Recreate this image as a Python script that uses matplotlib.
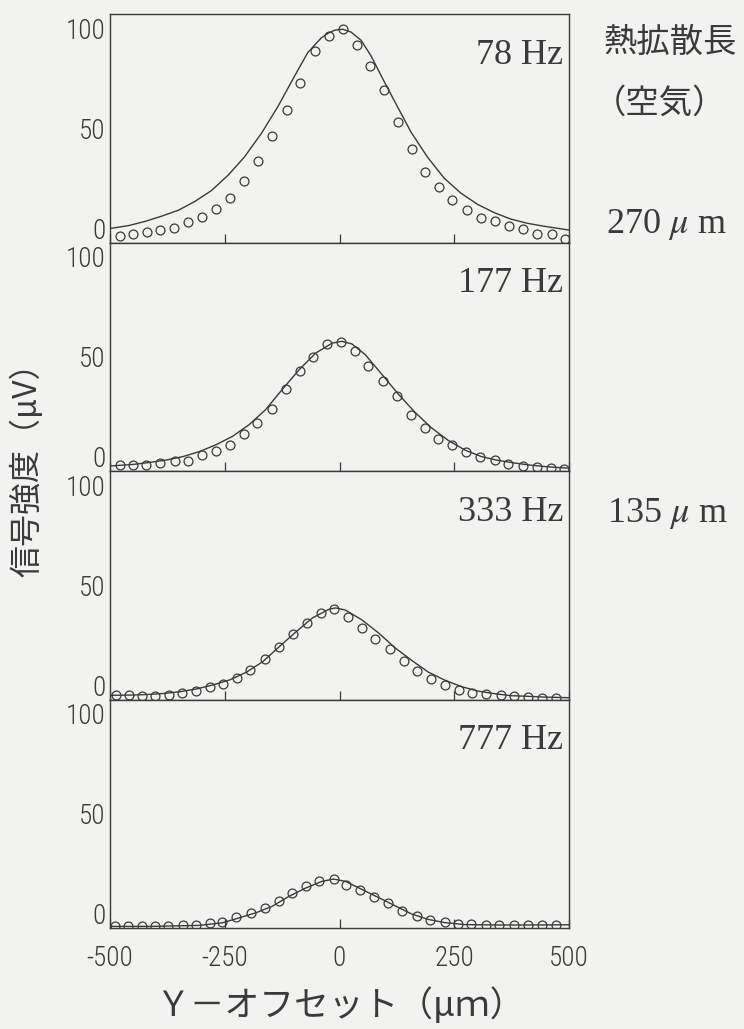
import matplotlib
matplotlib.use("Agg")
import matplotlib.pyplot as plt
import matplotlib.font_manager as fm

# ---- data: Y offset (um) vs signal (uV), measured points and fitted curve ----
freq_labels = ["78 Hz", "177 Hz", "333 Hz", "777 Hz"]

p78_x = [-478, -449, -420, -390, -360, -330, -299, -268, -238, -207, -178, -146, -115, -85, -54, -23,
         7, 38, 67, 98, 128, 158, 187, 217, 246, 278, 308, 339, 370, 400, 431, 462, 491]
p78_y = [-3.6, -2.8, -1.8, -0.9, 0.1, 3.0, 5.8, 9.9, 15.4, 23.5, 33.6, 46.2, 59.3, 72.4, 88.3, 96.2,
         99.6, 91.4, 81.1, 69.0, 53.2, 39.6, 28.4, 20.6, 14.4, 9.2, 5.3, 3.8, 1.0, -0.3, -2.6, -2.7, -5.3]
f78_x = [-500, -460, -424, -388, -351, -315, -279, -243, -207, -170, -134, -98, -69, -40, -25, -11, 7,
         25, 47, 69, 98, 128, 156, 192, 228, 264, 301, 337, 373, 409, 446, 500]
f78_y = [0.0, 1.4, 3.5, 6.1, 9.1, 13.5, 18.9, 26.5, 35.7, 47.5, 60.9, 76.0, 87.8, 95.0, 97.4, 98.9, 99.4,
         98.0, 93.9, 86.0, 73.0, 60.0, 48.0, 35.5, 25.1, 17.7, 12.0, 7.9, 4.7, 2.6, 1.1, -0.8]

p177_x = [-478, -449, -421, -390, -359, -330, -299, -269, -239, -209, -179, -148, -117, -87, -57, -27,
          3, 33, 63, 94, 125, 155, 186, 215, 245, 276, 307, 338, 368, 399, 430, 460, 489]
p177_y = [-4.1, -4.1, -4.0, -3.2, -1.9, -1.9, 0.8, 3.1, 6.1, 11.5, 16.9, 24.1, 33.9, 43.0, 49.9, 56.3,
          57.4, 53.1, 45.3, 37.7, 30.2, 21.0, 14.6, 9.2, 6.0, 2.7, 0.2, -1.7, -3.4, -4.3, -4.9, -5.4, -5.8]
f177_x = [-500, -449, -413, -377, -341, -305, -269, -233, -197, -161, -125, -88, -52, -16, 5,
          27, 56, 92, 128, 164, 200, 236, 273, 309, 345, 381, 417, 453, 500]
f177_y = [-4.5, -3.7, -2.7, -1.5, 0.2, 2.7, 6.1, 10.3, 16.1, 23.6, 33.6, 43.5, 51.8, 56.8, 57.7,
          56.4, 51.1, 41.3, 31.4, 22.4, 14.6, 8.4, 3.5, 0.2, -1.7, -3.0, -4.1, -4.9, -5.6]

p333_x = [-488, -459, -430, -401, -372, -343, -313, -282, -253, -224, -194, -163, -132, -102, -71, -41,
          -12, 18, 48, 78, 109, 140, 169, 199, 230, 260, 289, 320, 351, 381, 410, 442, 471]
p333_y = [-4.9, -4.9, -5.1, -5.3, -4.7, -3.9, -2.7, -1.0, 0.8, 3.6, 7.8, 13.2, 19.3, 25.9, 31.4, 36.3,
          38.0, 34.3, 28.6, 23.4, 18.0, 12.3, 7.4, 3.4, 0.1, -2.3, -3.6, -4.2, -5.0, -5.4, -5.7, -6.2, -6.1]
f333_x = [-500, -455, -419, -383, -347, -311, -275, -239, -203, -167, -131, -95, -59, -23, -8,
          13, 49, 85, 121, 158, 194, 230, 266, 302, 338, 374, 410, 446, 500]
f333_y = [-4.9, -4.8, -4.5, -4.0, -3.1, -1.7, 0.3, 2.8, 6.6, 11.9, 19.4, 26.7, 33.7, 38.0, 38.7,
          37.6, 32.7, 26.2, 18.8, 12.4, 6.6, 2.6, -0.6, -2.8, -4.1, -5.1, -5.4, -5.8, -6.1]

p777_x = [-489, -460, -431, -403, -374, -341, -312, -283, -255, -226, -193, -163, -132, -103, -73, -44,
          -13, 14, 45, 76, 106, 137, 168, 197, 229, 258, 287, 319, 348, 381, 410, 442, 471]
p777_y = [-6.2, -6.2, -6.1, -6.1, -6.1, -5.6, -5.6, -4.7, -4.1, -1.4, 0.3, 3.1, 6.4, 10.5, 14.1, 16.3,
          17.4, 14.7, 11.9, 8.7, 5.4, 1.6, -1.1, -3.2, -4.0, -4.8, -5.1, -5.6, -5.5, -5.5, -5.5, -5.5, -5.4]
f777_x = [-500, -413, -305, -255, -218, -182, -146, -110, -74, -38, -13, 13, 49, 85, 121, 157,
          193, 229, 273, 345, 417, 500]
f777_y = [-6.2, -6.2, -5.7, -4.4, -1.9, 0.6, 3.9, 8.8, 12.9, 16.3, 17.4, 16.3, 12.2, 8.2, 4.1, 0.0,
          -2.7, -4.3, -5.3, -5.5, -5.5, -5.4]

points = [(p78_x, p78_y), (p177_x, p177_y), (p333_x, p333_y), (p777_x, p777_y)]
fits = [(f78_x, f78_y), (f177_x, f177_y), (f333_x, f333_y), (f777_x, f777_y)]

x_ticks = [-500, -250, 0, 250, 500]
x_tick_labels = ["-500", "-250", "0", "250", "500"]
y_ticks = [0, 50, 100]
y_tick_labels = ["0", "50", "100"]

# ---- fonts ----
available = {f.name for f in fm.fontManager.ttflist}


def pick(*names):
    for n in names:
        if n in available:
            return n
    return "DejaVu Sans"


NUM_FONT = pick("Roboto Condensed", "Roboto", "DejaVu Sans")
SERIF = pick("Liberation Serif", "DejaVu Serif")
CJK = ["Noto Sans CJK JP", "DejaVu Sans"]
plt.rcParams["mathtext.fontset"] = "stix"

INK = "#3a3a3a"
PAPER = "#f2f2f0"

fig = plt.figure(figsize=(7.44, 10.29), dpi=100, facecolor=PAPER)

left = 110 / 744
width = (569 - 110) / 744
bottom0 = 1 - 928 / 1029
h = (928 - 14) / 1029 / 4

for i in range(4):
    ax = fig.add_axes([left, bottom0 + (3 - i) * h, width, h])
    ax.set_facecolor(PAPER)
    px, py = points[i]
    fx, fy = fits[i]
    ax.plot(fx, fy, color=INK, lw=1.0, zorder=2)
    ax.plot(px, py, ls="none", marker="o", ms=6.4, mfc="none", mec=INK, mew=0.9, zorder=3)
    ax.set_xlim(-500, 500)
    ax.set_ylim(-7, 107)
    for s in ax.spines.values():
        s.set_color(INK)
        s.set_linewidth(1.0)

    ax.set_xticks(x_ticks)
    ax.set_xticklabels(x_tick_labels, fontfamily=NUM_FONT, fontweight="light",
                       fontsize=19.5, color=INK)
    ax.tick_params(axis="x", direction="in", length=6.5, width=0.9, color=INK,
                   pad=12, top=False, labelbottom=(i == 3))

    ax.set_yticks(y_ticks)
    ax.set_yticklabels(y_tick_labels, fontfamily=NUM_FONT, fontweight="light",
                       fontsize=19.5, color=INK)
    ax.set_yticks([50], minor=True)
    ax.tick_params(axis="y", which="major", length=0, pad=3)
    ax.tick_params(axis="y", which="minor", direction="in", length=6, width=0.9,
                   color=INK, labelleft=False)

    ax.text(0.987, 0.782, freq_labels[i], transform=ax.transAxes, ha="right",
            va="baseline", fontfamily=SERIF, fontsize=26, color=INK)

# axis titles
fig.text(0.036, 1 - 462 / 1029, "信号強度（μV）", rotation=90, ha="center", va="center",
         family=CJK, fontsize=23, color=INK)
fig.text(340 / 744, 1 - 1006 / 1029, "Ｙ－オフセット（μｍ）", ha="center", va="center",
         family=CJK, fontsize=25, color=INK)

# thermal diffusion length annotations on the right
fig.text(670 / 744, 1 - 42 / 1029, "熱拡散長", ha="center", va="center",
         family=CJK, fontsize=24, color=INK)
fig.text(660 / 744, 1 - 103 / 1029, "（空気）", ha="center", va="center",
         family=CJK, fontsize=24, color=INK)
fig.text(666 / 744, 1 - 233 / 1029, "270 $\\mu$ m", ha="center", va="baseline",
         family=SERIF, fontsize=26, color=INK)
fig.text(667 / 744, 1 - 522 / 1029, "135 $\\mu$ m", ha="center", va="baseline",
         family=SERIF, fontsize=26, color=INK)

fig.savefig("out.png", dpi=100, facecolor=PAPER)
